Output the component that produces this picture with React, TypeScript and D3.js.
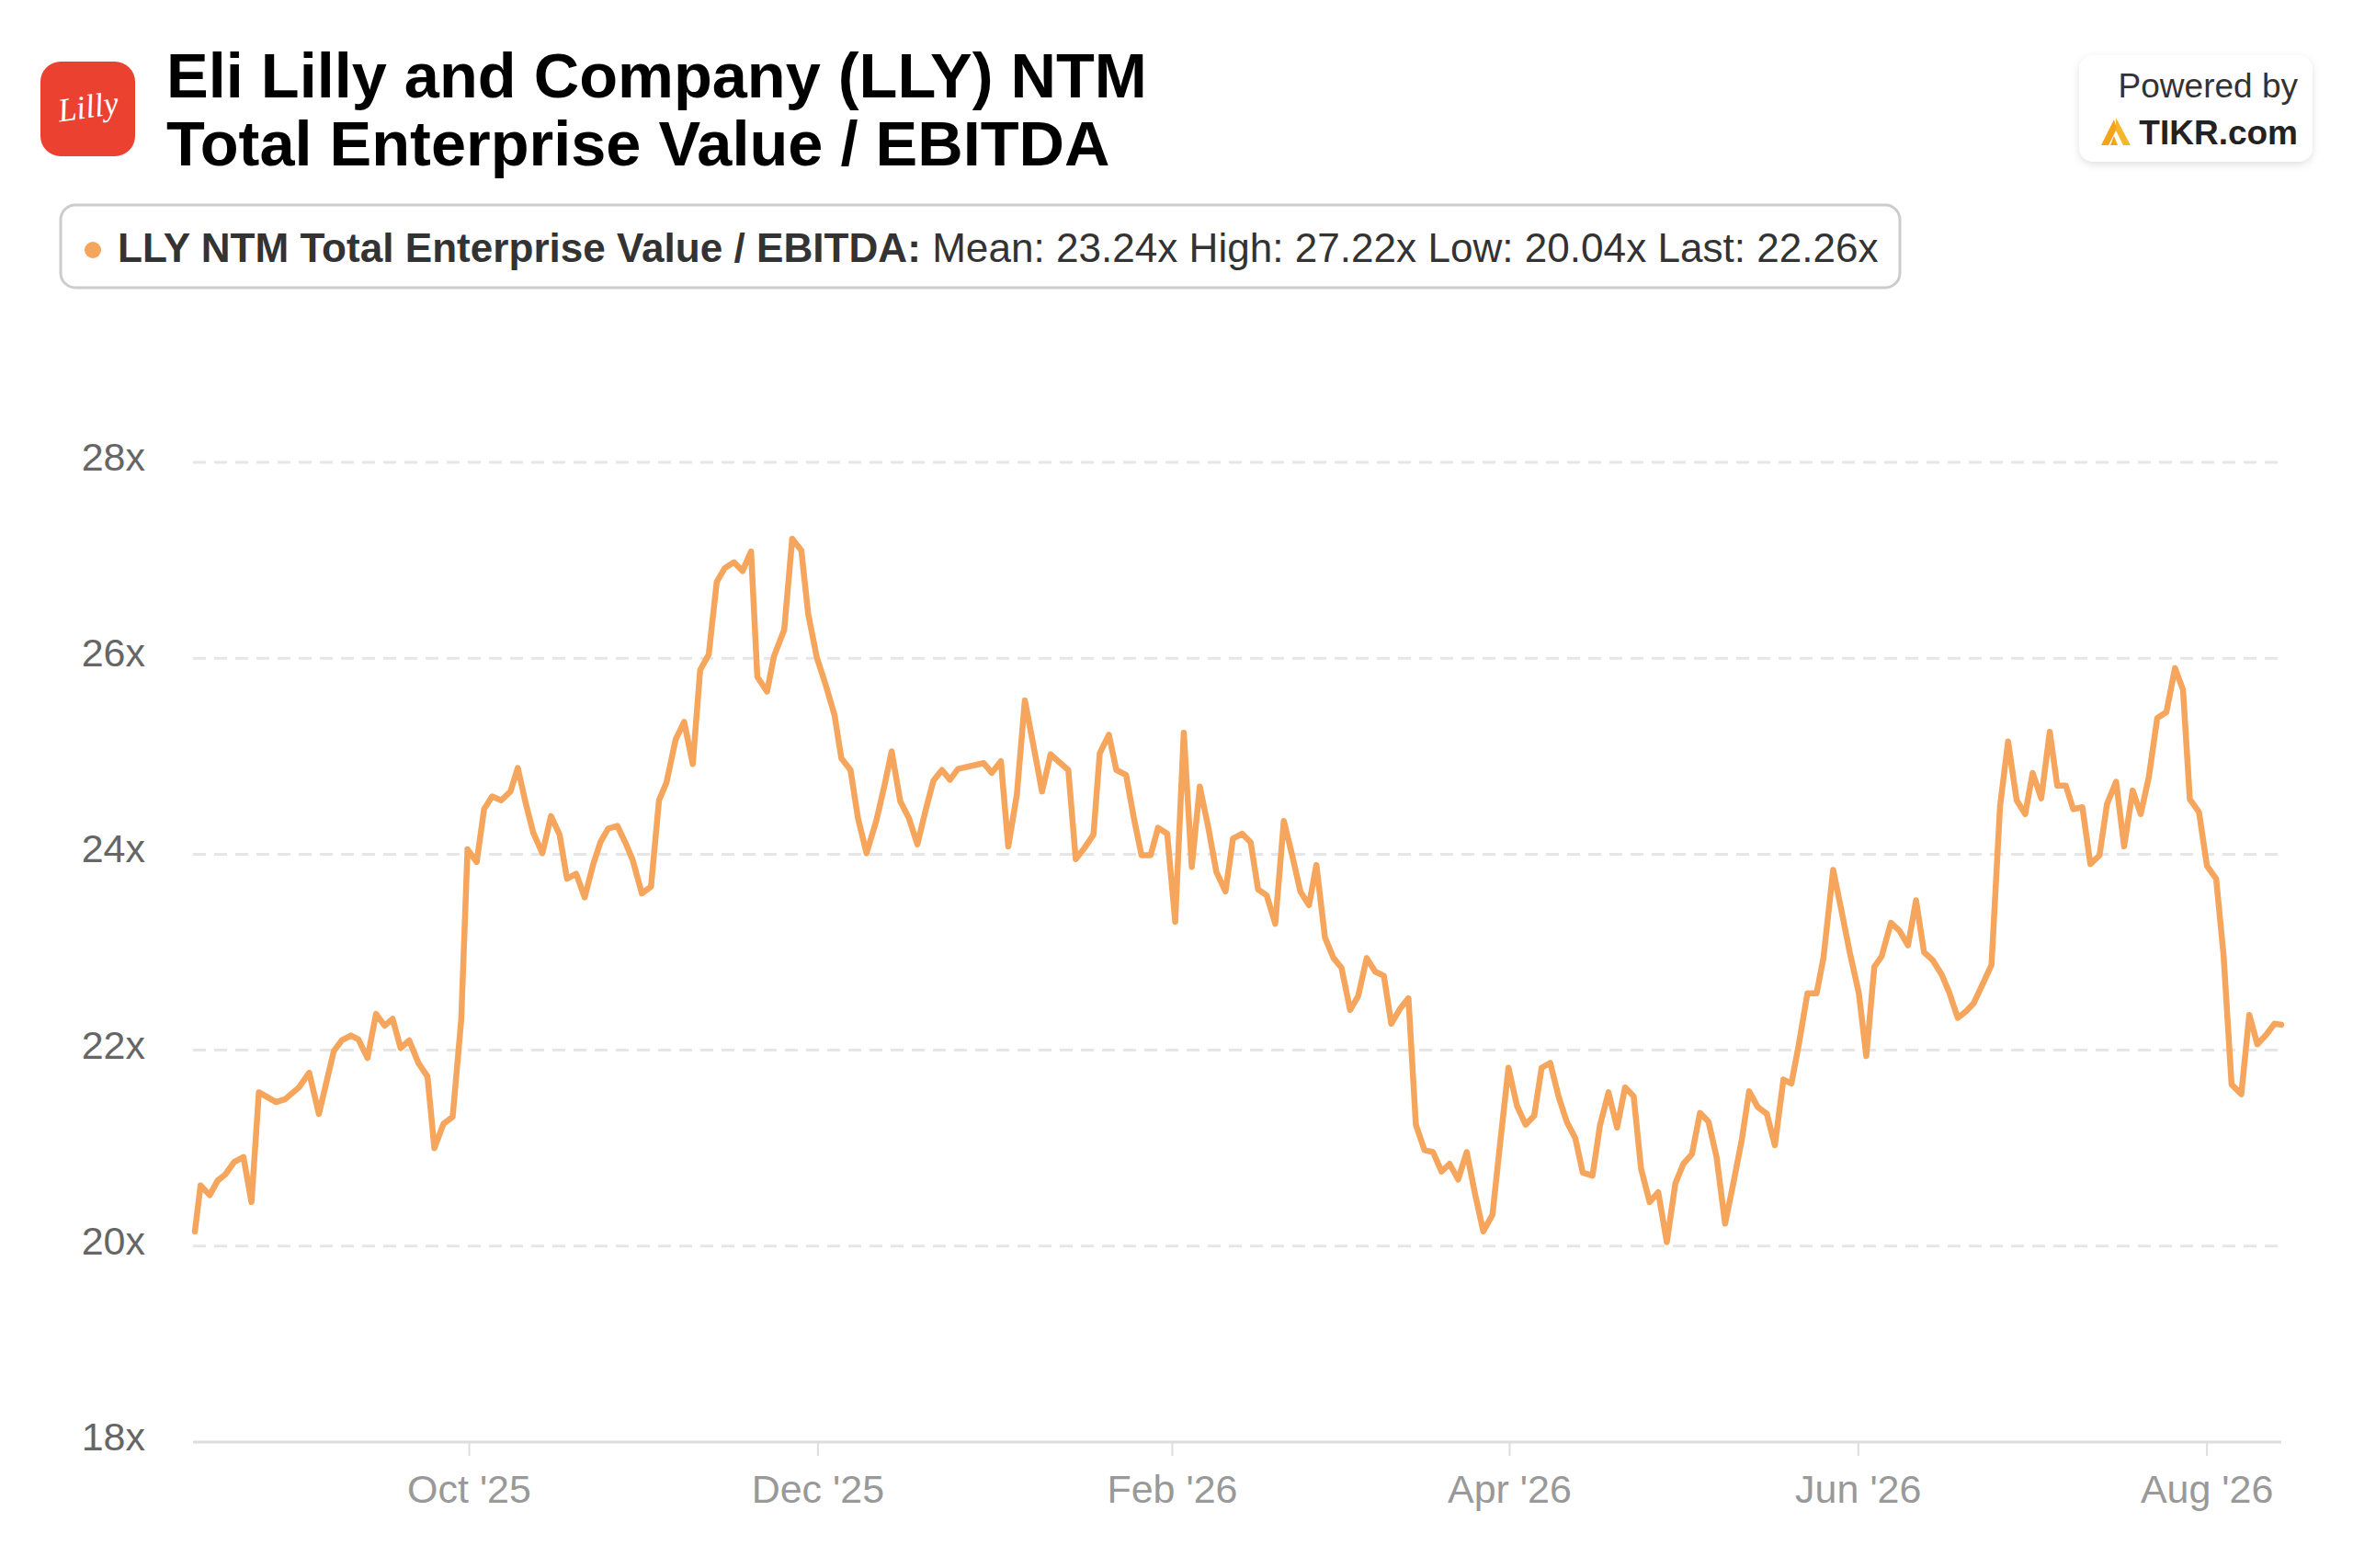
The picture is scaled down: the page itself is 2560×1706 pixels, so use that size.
import React from 'react';
import * as d3 from 'd3';

// NTM TEV / EBITDA, days counted from 2025-08-14
const startDate = '2025-08-14';
const endDate = '2026-08-14';

const dayOffsets = [
  0, 1, 2.6, 4, 5.3, 6.9, 8.5, 9.9, 11.2, 14.2, 15.8, 18.2, 20, 21.7, 24.3, 25.7, 27.3, 28.6, 30.2, 31.7,
  33.2, 34.6, 36, 37.5, 39.1, 40.7, 41.9, 43.5, 45.1, 46.6, 47.7, 49.3, 50.6, 52, 53.6, 55.2, 56.5, 57.8,
  59.2, 60.8, 62.3, 63.8, 65.1, 66.7, 68.2, 69.7, 71, 72.3, 73.9, 75.3,
  76.6, 78.2, 79.8, 81.2, 82.5, 84.1, 85.6, 87.1, 88.4, 89.9, 91.3, 92.7, 94.3, 95.8, 97.3, 98.4, 100.1,
  101.3, 103.1, 104.5, 106.1, 107.3, 108.8, 110.4, 111.9, 113.1, 114.7, 116, 117.5, 119.2, 120.6, 121.9,
  123.4, 124.9, 126.4, 127.8, 129.2, 130.7, 132.1, 133.5, 138, 139.4, 141, 142.3, 143.8, 145.2, 146.7,
  148.2, 149.7,
  151.4, 152.8, 154.1, 155.7, 157.2, 158.3, 159.9, 161.2, 162.9, 164.3, 165.6, 167.2, 168.5, 170.1, 171.5,
  173, 174.4, 175.8, 177.3, 178.7, 180.3, 181.6, 183.2, 184.7, 186, 187.5, 189, 190.5, 192, 193.4, 194.9,
  196.2, 197.7, 199.2, 200.6, 202.1, 203.5, 205, 206.5, 208, 209.3, 210.8, 212.3, 213.6, 215.1, 216.6,
  218.1, 219.5, 221, 222.5, 224, 225.4,
  227, 228.4, 229.8, 231.3, 232.8, 234.3, 235.6, 237.1, 238.6, 240, 241.5, 242.8, 244.5, 245.8, 247.3,
  248.8, 250.2, 251.7, 253, 254.5, 256, 257.5, 259, 260.4, 261.9, 263.3, 264.8, 266.2, 267.7, 269.1, 270.6,
  271.9, 273.4, 275, 276.4, 277.9, 279.3, 280.6, 282.1, 283.7, 284.9, 286.6, 288, 289.5, 291.1, 292.4,
  293.8, 295.1, 296.7, 298.2, 299.7, 301.1,
  302.5, 304, 305.6, 306.9, 308.4, 309.9, 311.2, 312.8, 314.3, 315.8, 317.2, 318.7, 320.2, 321.5, 323,
  324.5, 325.8, 327.3, 328.6, 330.2, 331.6, 333.2, 334.5, 336.1, 337.5, 339, 340.4, 341.8, 343.3, 344.9,
  346.4, 347.8, 349, 350.6, 352, 353.6, 354.9, 356.3, 358, 359.4, 360.8, 362.4, 363.8, 365,
];

const values = [
  20.15, 20.62, 20.52, 20.67, 20.73, 20.86, 20.91, 20.45, 21.57, 21.47, 21.5, 21.62, 21.77, 21.35, 21.99,
  22.1, 22.15, 22.11, 21.92, 22.37, 22.25, 22.32, 22.02, 22.1, 21.87, 21.73, 21.0, 21.25, 21.32, 22.31,
  24.05, 23.92, 24.46, 24.59, 24.55, 24.64, 24.88, 24.54, 24.22, 24.01, 24.39, 24.2, 23.75, 23.8, 23.56,
  23.9, 24.13, 24.26, 24.29, 24.12,
  23.94, 23.6, 23.67, 24.55, 24.73, 25.17, 25.35, 24.92, 25.88, 26.04, 26.78, 26.92, 26.98, 26.89, 27.09,
  25.81, 25.66, 26.02, 26.29, 27.22, 27.1, 26.45, 26.01, 25.72, 25.42, 24.98, 24.86, 24.37, 24.01, 24.34,
  24.69, 25.05, 24.54, 24.37, 24.1, 24.44, 24.75, 24.86, 24.76, 24.87, 24.93, 24.83, 24.95, 24.08, 24.61,
  25.57, 25.11, 24.64, 25.02,
  24.93, 24.86, 23.95, 24.07, 24.2, 25.03, 25.22, 24.86, 24.81, 24.36, 23.99, 23.99, 24.27, 24.21, 23.31,
  25.24, 23.87, 24.69, 24.27, 23.82, 23.62, 24.16, 24.21, 24.12, 23.64, 23.58, 23.29, 24.34, 23.98, 23.62,
  23.48, 23.89, 23.15, 22.94, 22.84, 22.41, 22.55, 22.94, 22.8, 22.76, 22.27, 22.42, 22.53, 21.24, 20.98,
  20.96, 20.76, 20.84, 20.68, 20.96, 20.52, 20.15,
  20.32, 21.08, 21.82, 21.43, 21.24, 21.33, 21.82, 21.87, 21.52, 21.27, 21.1, 20.75, 20.72, 21.23, 21.57,
  21.21, 21.62, 21.53, 20.79, 20.45, 20.55, 20.04, 20.64, 20.84, 20.94, 21.36, 21.27, 20.91, 20.23, 20.63,
  21.08, 21.58, 21.42, 21.35, 21.03, 21.7, 21.66, 22.06, 22.58, 22.58, 22.94, 23.84, 23.44, 23.0, 22.58,
  21.94, 22.85, 22.96, 23.3, 23.22, 23.07, 23.53,
  23.0, 22.92, 22.77, 22.59, 22.33, 22.4, 22.48, 22.68, 22.87, 24.49, 25.15, 24.55, 24.41, 24.83, 24.57,
  25.25, 24.7, 24.7, 24.46, 24.48, 23.9, 23.99, 24.51, 24.74, 24.08, 24.65, 24.41, 24.78, 25.39, 25.45,
  25.9, 25.68, 24.56, 24.43, 23.88, 23.75, 22.97, 21.65, 21.55, 22.36, 22.06, 22.16, 22.27, 22.26,
];

const yTicks = [18, 20, 22, 24, 26, 28];
const xTickDates = ['2025-10-01', '2025-12-01', '2026-02-01', '2026-04-01', '2026-06-01', '2026-08-01'];

const seriesName = 'LLY NTM Total Enterprise Value / EBITDA:';
const statLabels = ['Mean', 'High', 'Low', 'Last'];
const statValues = [23.24, 27.22, 20.04, 22.26];

const titleLines = ['Eli Lilly and Company (LLY) NTM', 'Total Enterprise Value / EBITDA'];

const W = 2560;
const H = 1706;
const lineColor = '#F5A55C';
const font = '"Liberation Sans", Arial, Helvetica, sans-serif';

const parse = d3.utcParse('%Y-%m-%d');
const t0 = parse(startDate) as Date;

const points = dayOffsets.map((d, i) => ({
  date: new Date(t0.getTime() + d * 86400000),
  value: values[i],
}));

export default function App() {
  const x = d3.scaleUtc()
    .domain([t0, parse(endDate) as Date])
    .range([212, 2482]);
  const y = d3.scaleLinear().domain([18, 28]).range([1569, 503]);

  const line = d3.line<{ date: Date; value: number }>()
    .x(d => x(d.date))
    .y(d => y(d.value));

  const fmt = d3.utcFormat("%b '%y");

  return (
    <svg
      width={W}
      height={H}
      style={{ position: 'absolute', left: 0, top: 0, background: '#fff', fontFamily: font }}
    >
      <defs>
        <filter id="shadow" x="-20%" y="-20%" width="140%" height="150%">
          <feDropShadow dx="0" dy="3" stdDeviation="4" floodColor="#000" floodOpacity="0.12" />
        </filter>
      </defs>

      {/* logo */}
      <rect x={44} y={67} width={103} height={103} rx={22} fill="#EA4130" />
      <text
        x={96}
        y={128}
        textAnchor="middle"
        fill="#fff"
        fontFamily='"Liberation Serif", "DejaVu Serif", serif'
        fontStyle="italic"
        fontSize={36}
        transform="rotate(-8 96 118)"
      >
        Lilly
      </text>

      {/* title */}
      {titleLines.map((t, i) => (
        <text key={t} x={181} y={106 + i * 74} fontSize={68.5} fontWeight="bold" fill="#000">
          {t}
        </text>
      ))}

      {/* powered by */}
      <rect x={2262} y={60} width={254} height={116} rx={16} fill="#fff" filter="url(#shadow)" />
      <text x={2500} y={106} textAnchor="end" fontSize={37} fill="#333">Powered by</text>
      <text x={2500} y={157} textAnchor="end" fontSize={37} fontWeight="bold" fill="#222">TIKR.com</text>
      <path d="M2300,130 L2286,158 L2294,158 L2303,140 Z" fill="#F5A31A" />
      <path d="M2302,128 L2318,158 L2310,158 L2302,142 Z" fill="#F7B52C" />
      <path d="M2300,148 L2296,158 L2304,158 Z" fill="#F5A31A" />

      {/* legend */}
      <rect x={66} y={223} width={2001} height={90} rx={16} fill="#fff" stroke="#cccccc" strokeWidth={3} />
      <circle cx={101} cy={272} r={9} fill={lineColor} />
      <text x={128} y={285} fontSize={44.1} fill="#333">
        <tspan fontWeight="bold">{seriesName}</tspan>
        {statLabels.map((l, i) => (
          <tspan key={l}>{` ${l}: ${statValues[i].toFixed(2)}x`}</tspan>
        ))}
      </text>

      {/* grid */}
      {yTicks.filter(v => v !== 18).map(v => (
        <line
          key={v}
          x1={210}
          x2={2479}
          y1={y(v)}
          y2={y(v)}
          stroke="#e6e6e6"
          strokeWidth={3}
          strokeDasharray="14,9"
        />
      ))}
      <line x1={210} x2={2482} y1={y(18)} y2={y(18)} stroke="#dddddd" strokeWidth={3} />

      {/* y axis labels */}
      {yTicks.map(v => (
        <text key={v} x={158} y={y(v) + 9} textAnchor="end" fontSize={43} fill="#666">
          {`${v}x`}
        </text>
      ))}

      {/* x axis */}
      {xTickDates.map(s => {
        const d = parse(s) as Date;
        const xp = x(d);
        return (
          <g key={s}>
            <line x1={xp} x2={xp} y1={y(18)} y2={y(18) + 15} stroke="#dddddd" strokeWidth={2} />
            <text x={xp} y={1635} textAnchor="middle" fontSize={43} fill="#999">
              {fmt(d)}
            </text>
          </g>
        );
      })}

      {/* series */}
      <path
        d={line(points) || ''}
        fill="none"
        stroke={lineColor}
        strokeWidth={6.5}
        strokeLinejoin="round"
        strokeLinecap="round"
      />
    </svg>
  );
}
